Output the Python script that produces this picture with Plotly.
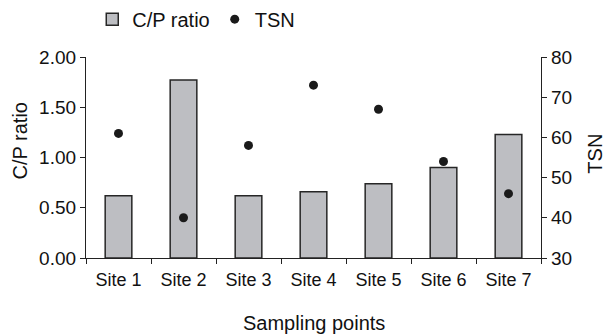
import plotly.graph_objects as go

sites = ["Site 1", "Site 2", "Site 3", "Site 4", "Site 5", "Site 6", "Site 7"]
cp_ratio = [0.62, 1.77, 0.62, 0.66, 0.74, 0.90, 1.23]
tsn = [61, 40, 58, 73, 67, 54, 46]

FONT = "Liberation Sans, Arial, sans-serif"

fig = go.Figure()
fig.add_trace(go.Bar(
    x=sites, y=cp_ratio, name="C/P ratio", width=0.41,
    marker=dict(color="#bdbec2", line=dict(color="#262626", width=1.5)),
    yaxis="y",
))
fig.add_trace(go.Scatter(
    x=sites, y=tsn, name="TSN", mode="markers",
    marker=dict(color="#1a1a1a", size=9),
    yaxis="y2",
))

fig.update_layout(
    width=607, height=336,
    margin=dict(l=86, r=66, t=57, b=78, autoexpand=False),
    paper_bgcolor="white", plot_bgcolor="white",
    font=dict(family=FONT, size=18, color="#111111"),
    showlegend=True,
    legend=dict(orientation="h", xref="container", yref="container",
                x=0.152, xanchor="left", y=0.943, yanchor="middle",
                font=dict(size=20), itemwidth=30, tracegroupgap=0,
                bgcolor="rgba(0,0,0,0)"),
    xaxis=dict(
        showline=True, linecolor="#222222", linewidth=1.2,
        ticks="outside", ticklen=5, tickcolor="#222222", tickson="boundaries",
        showgrid=False, zeroline=False, tickfont=dict(size=18),
        ticklabelstandoff=5,
    ),
    yaxis=dict(
        range=[0, 2], dtick=0.5, tickformat=".2f",
        showline=True, linecolor="#222222", linewidth=1.2,
        ticks="outside", ticklen=5, tickcolor="#222222",
        showgrid=False, zeroline=False, tickfont=dict(size=19),
    ),
    yaxis2=dict(
        range=[30, 80], dtick=10, overlaying="y", side="right",
        showline=True, linecolor="#222222", linewidth=1.2,
        ticks="outside", ticklen=5, tickcolor="#222222",
        showgrid=False, zeroline=False, tickfont=dict(size=19),
    ),
    annotations=[
        dict(text="Sampling points", xref="paper", yref="paper", x=0.5, y=-0.322,
             yanchor="middle", showarrow=False, font=dict(size=20)),
        dict(text="C/P ratio", xref="paper", yref="paper", x=-0.145, xanchor="center",
             y=0.58, yanchor="middle", textangle=-90, showarrow=False, font=dict(size=20)),
        dict(text="TSN", xref="paper", yref="paper", x=1.119, xanchor="center",
             y=0.52, yanchor="middle", textangle=-90, showarrow=False, font=dict(size=20)),
    ],
)

fig.write_html("out.html", config={"displayModeBar": False},
               post_script="document.body.style.margin='0px';")
